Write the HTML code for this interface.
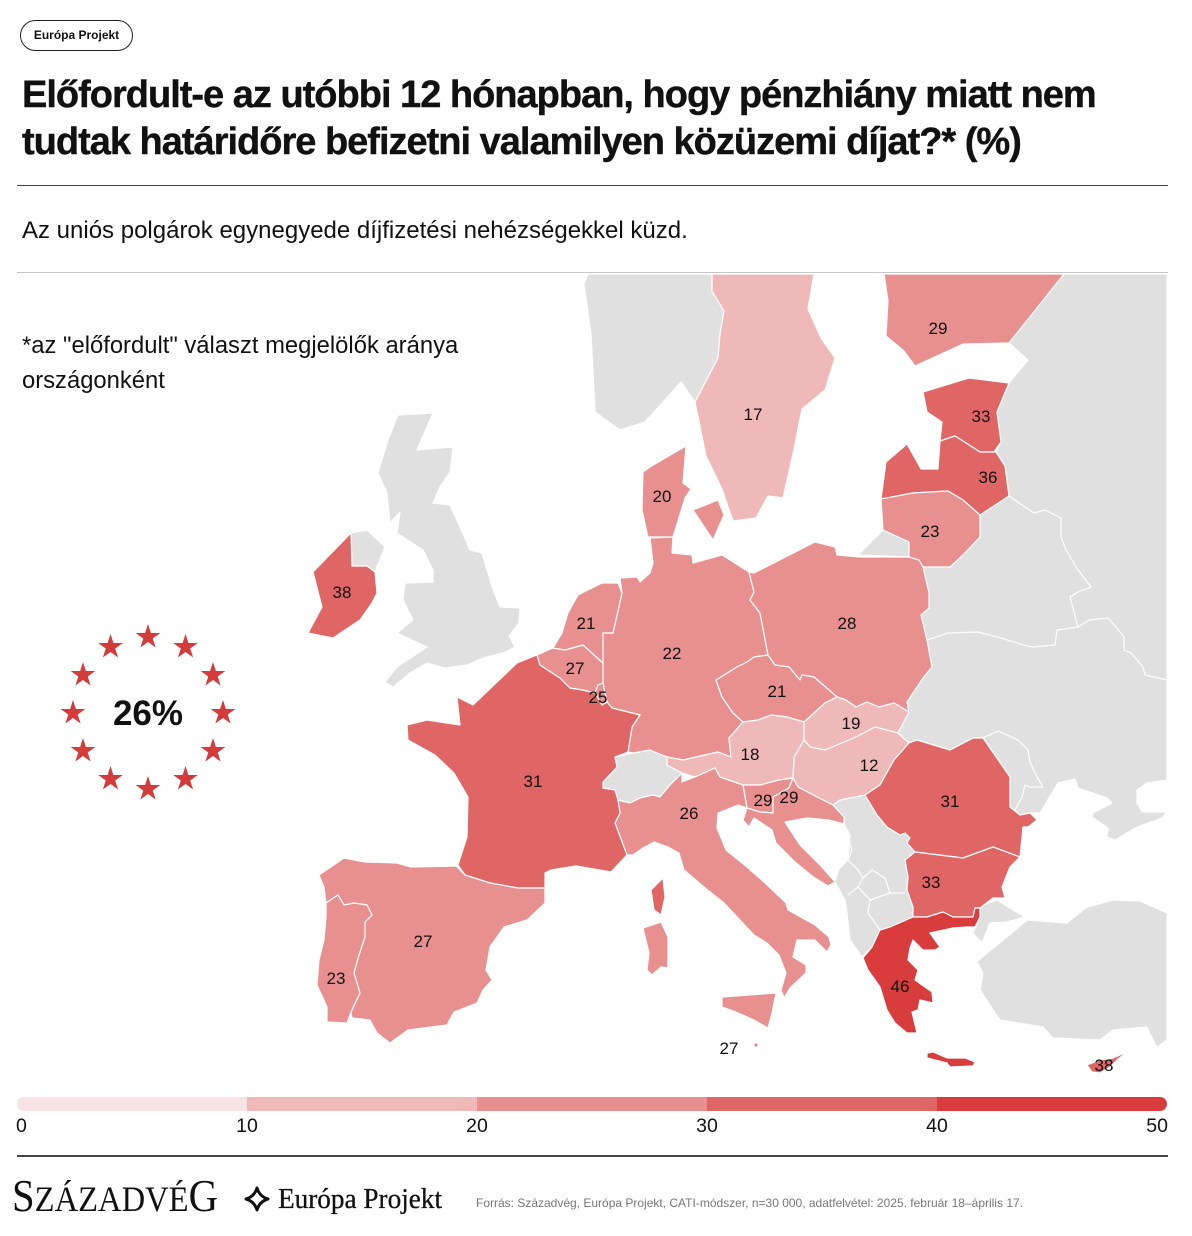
<!DOCTYPE html>
<html><head><meta charset="utf-8">
<style>
html,body{margin:0;padding:0;background:#fff;}
body{width:1192px;height:1236px;position:relative;overflow:hidden;font-family:"Liberation Sans",Arial,sans-serif;color:#111;}
.pill{position:absolute;left:20px;top:20px;width:111px;height:29px;border:1px solid #222;border-radius:16px;font-weight:bold;font-size:12px;line-height:29px;text-align:center;}
.title{position:absolute;left:22px;top:72px;font-weight:bold;font-size:38px;line-height:47px;letter-spacing:-1px;white-space:nowrap;color:#111;-webkit-text-stroke:0.4px #111;}
.rule1{position:absolute;left:17px;top:185px;width:1151px;height:1px;background:#444;}
.sub{position:absolute;left:22px;top:216px;font-size:24px;line-height:30px;white-space:nowrap;}
.rule2{position:absolute;left:17px;top:272px;width:1151px;height:1px;background:#c8c8c8;}
.note{position:absolute;left:22px;top:328px;font-size:23.8px;line-height:35px;white-space:nowrap;}
svg{position:absolute;left:0;top:0;}
</style></head>
<body>
<svg width="1192" height="1236" viewBox="0 0 1192 1236" xmlns="http://www.w3.org/2000/svg">
<defs>
<path id="st" d="M0,-13 L2.92,-4.02 L12.36,-4.02 L4.73,1.54 L7.64,10.52 L0,4.97 L-7.64,10.52 L-4.73,1.54 L-12.36,-4.02 L-2.92,-4.02 Z" fill="#d63b3b"/>
<clipPath id="mc"><rect x="17" y="274" width="1151" height="830"/></clipPath>
<clipPath id="bc"><rect x="17" y="1097" width="1150" height="14" rx="7"/></clipPath>
</defs>
<g clip-path="url(#mc)" stroke="#fff" stroke-width="1.2" stroke-linejoin="round">
<g fill="#e0e0e0">
<polygon points="584,284 588,274 712,274 712,291 724,311 720,334 718,358 695,402 681,382 645,422 620,430 595,412 591,334"/>
<polygon points="398,415 433,413 417,450 453,447 450,472 440,487 433,503 450,505 460,527 470,550 482,553 492,587 500,607 520,608 519,623 509,636 515,647 503,653 483,658 467,665 445,668 427,663 410,673 393,687 385,682 397,667 427,647 397,633 413,620 403,600 405,583 433,582 433,570 423,550 397,533 400,512 390,523 387,493 378,473 388,440"/>
<polygon points="351,533 367,530 385,547 375,572 367,566 352,566"/>
<polygon points="858,555 883,530 909,542 909,557"/>
<polygon points="603,782 617,767 615,757 633,753 650,750 667,757 667,765 682,773 682,782 670,785 660,797 653,795 640,798 630,803 618,800 615,790 603,788"/>
<polygon points="833,805 840,800 865,795 877,815 887,827 900,835 905,833 910,838 907,843 915,852 905,860 908,877 907,890 913,907 913,917 890,927 880,930 872,947 862,957 850,940 847,913 845,900 835,882 838,870 848,860 850,835 844,824 844,817"/>
<polygon points="1064,274 1167,274 1167,780 1147,783 1137,790 1137,803 1142,812 1167,812 1162,818 1137,827 1115,840 1107,837 1108,828 1092,817 1093,813 1112,803 1107,798 1078,788 1075,779 1058,783 1040,813 1030,813 1020,815 1010,807 1010,777 983,738 973,738 950,750 917,740 909,743 898,733 909,712 907,702 923,678 932,667 927,640 921,615 929,608 929,593 923,567 950,567 963,555 980,537 980,515 1009,496 1005,466 996,452 1001,442 997,412 1009,383 1028,360 1009,343"/>
<polygon points="978,907 997,900 1013,910 1025,917 1007,922 990,923 982,943 973,933 980,917"/>
<polygon points="977,962 987,953 1007,937 1027,920 1067,923 1087,907 1113,900 1140,901 1167,913 1167,1040 1157,1047 1152,1038 1147,1027 1113,1030 1100,1040 1053,1038 1043,1027 1000,1020 993,1010 980,990 983,973"/>
</g>
<g fill="none">
<polyline points="927,640 948,633 978,632 1001,638 1024,645 1032,647 1055,645 1057,630 1078,627 1089,620 1108,618 1116,627 1124,637 1124,650 1131,653 1143,667 1145,675 1167,680"/>
<polyline points="1009,496 1034,513 1045,510 1061,518 1061,537 1066,550 1078,570 1091,587 1078,592 1070,597 1078,627"/>
<polyline points="983,738 998,731 1018,740 1028,750 1030,762 1037,777 1043,787 1030,787 1025,785 1022,797 1015,810 1020,815"/>
<polyline points="844,817 845,830 852,850 848,860 840,865 835,882"/>
<polyline points="848,860 858,870 863,878 858,887 848,895"/>
<polyline points="863,878 872,870 885,878 890,893 870,900"/>
<polyline points="870,900 890,893 905,893"/>
<polyline points="858,887 870,900 868,913 880,930"/>
</g>
<polygon fill="#f0b9b9" points="712,274 814,274 808,309 821,338 835,358 825,390 802,409 794,449 783,498 768,496 756,518 733,521 722,489 706,456 695,402 718,358 720,334 724,311 712,291"/>
<polygon fill="#e89090" points="884,274 1064,274 1009,343 963,344 915,366 904,351 886,336 888,301"/>
<polygon fill="#e06666" points="923,392 969,378 1009,383 997,412 1001,442 994,452 980,452 955,436 940,441 942,422 927,412"/>
<polygon fill="#e06666" points="881,499 886,462 907,444 921,469 938,469 940,441 955,436 980,452 996,452 1005,466 1009,496 980,515 963,500 948,491 913,493"/>
<polygon fill="#e89090" points="881,499 913,493 948,491 963,500 980,515 980,537 963,555 950,567 923,567 909,557 909,542 883,530"/>
<polygon fill="#e89090" points="686,446 683,483 691,489 685,498 673,537 648,537 642,510 643,472 650,467 667,457"/>
<polygon fill="#e89090" points="693,510 718,500 724,515 713,540"/>
<polygon fill="#e89090" points="650,538 673,537 672,553 692,555 693,563 722,555 749,572 754,592 750,600 760,613 768,655 754,657 747,662 737,667 716,680 722,697 733,713 743,722 729,738 731,757 718,752 683,760 667,757 650,750 633,753 628,752 632,727 640,715 612,708 607,702 603,683 603,663 603,633 613,633 622,593 620,578 637,577 640,582 650,573 653,563"/>
<polygon fill="#e89090" points="754,573 815,542 835,547 837,555 860,557 909,557 919,560 923,567 929,593 929,608 921,615 927,640 932,667 923,678 907,702 909,712 894,703 879,707 867,702 856,707 846,700 837,697 829,690 814,677 802,675 800,680 789,667 775,665 768,655 760,613 750,600 754,592 749,572"/>
<polygon fill="#e89090" points="716,680 737,667 747,662 754,657 768,655 775,665 789,667 800,680 802,675 814,677 829,690 837,697 825,703 804,722 787,717 771,715 758,720 743,722 733,713 722,697"/>
<polygon fill="#f0b9b9" points="837,697 846,700 856,707 867,702 879,707 894,703 909,712 898,733 875,727 856,737 825,750 810,747 804,740 804,722 825,703"/>
<polygon fill="#f0b9b9" points="804,740 810,747 825,750 856,737 875,727 898,733 909,743 894,760 880,785 865,795 840,800 833,805 817,797 798,787 793,778 794,757"/>
<polygon fill="#f0b9b9" points="729,738 743,722 758,720 771,715 787,717 804,722 804,740 794,757 793,778 779,780 760,785 743,785 720,777 715,768 695,777 682,773 667,765 667,757 683,760 718,752 731,757"/>
<polygon fill="#e89090" points="743,785 760,785 779,780 793,778 789,788 773,797 773,813 760,812 747,808"/>
<polygon fill="#e89090" points="793,778 798,787 817,797 833,805 844,817 844,824 829,820 807,818 785,822 800,845 820,865 835,882 828,886 812,876 795,862 776,843 772,830 754,818 749,827 743,820 747,808 760,812 773,813 773,797 789,788"/>
<polygon fill="#e89090" points="682,773 682,782 695,777 715,768 720,777 743,785 747,808 738,805 718,813 717,828 726,850 747,867 765,883 786,903 788,910 815,925 829,937 831,945 827,952 815,940 797,940 793,957 806,965 806,973 790,988 784,998 781,990 786,973 779,955 767,943 754,935 740,920 724,903 704,887 684,870 679,853 668,847 654,842 643,848 633,855 627,855 615,823 620,813 618,800 630,803 640,798 653,795 660,797 670,785"/>
<polygon fill="#e89090" points="722,997 776,993 772,1013 768,1028 754,1020 736,1012 722,1007"/>
<polygon fill="#e89090" points="643,928 661,922 668,937 668,968 661,967 652,975 647,970 649,953"/>
<polygon fill="#e06666" points="651,890 663,878 665,897 661,915 654,910"/>
<polygon fill="#e06666" points="537,655 540,665 560,678 570,688 583,690 595,693 602,705 607,702 612,708 640,715 632,727 628,752 615,757 617,767 603,782 603,788 615,790 618,800 620,813 615,823 627,855 611,872 576,866 551,870 545,873 545,888 518,888 490,883 465,875 458,865 467,837 468,797 454,773 435,755 408,740 407,725 427,720 460,725 457,697 473,705 517,663"/>
<polygon fill="#e89090" points="537,655 553,648 565,650 583,645 603,663 603,683 598,685 595,693 583,690 570,688 560,678 540,665"/>
<polygon fill="#e89090" points="598,685 603,683 607,702 602,705 595,693"/>
<polygon fill="#e89090" points="578,595 602,583 618,583 622,593 613,633 603,633 603,663 583,645 565,650 553,648 562,633 568,613"/>
<polygon fill="#e89090" points="319,875 344,858 365,862 397,863 411,867 456,866 465,875 490,883 518,888 545,888 545,903 527,920 504,927 490,947 486,970 492,980 483,990 477,1003 454,1012 447,1025 408,1030 390,1043 377,1033 370,1020 352,1018 351,1012 360,993 354,973 358,958 365,937 365,922 372,915 367,905 354,903 344,905 338,895 326,903 324,887"/>
<polygon fill="#e89090" points="326,903 338,895 344,905 354,903 367,905 372,915 365,922 365,937 358,958 354,973 360,993 351,1012 347,1023 327,1022 327,1007 317,985 319,960 324,940 326,917"/>
<polygon fill="#e06666" points="351,533 352,566 367,566 375,572 377,593 372,603 360,620 333,638 308,633 322,607 313,572"/>
<polygon fill="#e06666" points="909,743 917,740 950,750 973,738 983,738 1010,777 1010,807 1020,815 1030,813 1037,820 1028,827 1023,827 1020,857 993,847 963,858 915,852 907,843 910,838 905,833 900,835 887,827 877,815 865,795 880,785 894,760"/>
<polygon fill="#e06666" points="915,852 963,858 993,847 1020,857 1010,867 1002,887 1005,898 993,898 980,908 975,908 973,917 953,917 943,912 927,917 913,917 913,907 907,890 908,877 905,860"/>
<polygon fill="#d93c3c" points="880,930 890,927 913,917 927,917 943,912 953,917 973,917 975,908 980,908 980,917 975,927 967,927 953,928 930,933 940,947 935,950 923,950 913,940 910,948 908,960 918,970 915,980 932,992 933,1003 920,1000 918,1010 912,1012 917,1033 907,1033 895,1023 887,1010 880,987 868,970 863,958 872,947"/>
<polygon fill="#d93c3c" points="927,1053 933,1052 947,1058 965,1058 975,1062 973,1066 950,1067 947,1063 927,1058"/>
<polygon fill="#e06666" points="1087,1065 1100,1060 1113,1058 1127,1052 1117,1060 1110,1067 1100,1073 1092,1072"/>
<circle cx="756" cy="1045" r="1.6" fill="#e89090" stroke="none"/>
</g>
<g font-family="Liberation Sans, Arial, sans-serif" font-size="17" fill="#111" text-anchor="middle">
<text x="938" y="334">29</text>
<text x="753" y="420">17</text>
<text x="981" y="422">33</text>
<text x="988" y="483">36</text>
<text x="662" y="502">20</text>
<text x="930" y="537">23</text>
<text x="342" y="598">38</text>
<text x="586" y="629">21</text>
<text x="847" y="629">28</text>
<text x="672" y="659">22</text>
<text x="575" y="674">27</text>
<text x="777" y="697">21</text>
<text x="598" y="703">25</text>
<text x="851" y="729">19</text>
<text x="750" y="760">18</text>
<text x="869" y="771">12</text>
<text x="533" y="787">31</text>
<text x="950" y="807">31</text>
<text x="763" y="806">29</text>
<text x="789" y="803">29</text>
<text x="689" y="819">26</text>
<text x="931" y="888">33</text>
<text x="423" y="947">27</text>
<text x="336" y="984">23</text>
<text x="900" y="992">46</text>
<text x="729" y="1054">27</text>
<text x="1104" y="1071">38</text>
</g>
<g>
<use href="#st" x="148" y="637"/>
<use href="#st" x="185.5" y="647"/>
<use href="#st" x="213" y="675"/>
<use href="#st" x="223" y="713"/>
<use href="#st" x="213" y="751"/>
<use href="#st" x="185.5" y="779"/>
<use href="#st" x="148" y="789"/>
<use href="#st" x="110.5" y="779"/>
<use href="#st" x="83" y="751"/>
<use href="#st" x="73" y="713"/>
<use href="#st" x="83" y="675"/>
<use href="#st" x="110.5" y="647"/>
</g>
<text x="148" y="725" text-anchor="middle" font-family="Liberation Sans, Arial, sans-serif" font-weight="bold" font-size="35" fill="#111">26%</text>
<g clip-path="url(#bc)">
<rect x="17" y="1097" width="230" height="14" fill="#f8e4e4"/>
<rect x="247" y="1097" width="230" height="14" fill="#f0b9b9"/>
<rect x="477" y="1097" width="230" height="14" fill="#e89090"/>
<rect x="707" y="1097" width="230" height="14" fill="#e06666"/>
<rect x="937" y="1097" width="230" height="14" fill="#d93c3c"/>
</g>
<g font-family="Liberation Sans, Arial, sans-serif" font-size="19.5" fill="#111">
<text x="16" y="1132">0</text>
<text x="247" y="1132" text-anchor="middle">10</text>
<text x="477" y="1132" text-anchor="middle">20</text>
<text x="707" y="1132" text-anchor="middle">30</text>
<text x="937" y="1132" text-anchor="middle">40</text>
<text x="1168" y="1132" text-anchor="end">50</text>
</g>
<rect x="17" y="1155" width="1151" height="2" fill="#444"/>
<text x="12" y="1211" font-family="Liberation Serif, Times New Roman, serif" fill="#111" textLength="206" lengthAdjust="spacingAndGlyphs"><tspan font-size="45">S</tspan><tspan font-size="36">ZÁZADVÉ</tspan><tspan font-size="45">G</tspan></text>
<path d="M257,1188 Q259.5,1196.5 268,1199 Q259.5,1201.5 257,1210 Q254.5,1201.5 246,1199 Q254.5,1196.5 257,1188 Z" fill="none" stroke="#111" stroke-width="3" stroke-linejoin="round"/>
<text x="278" y="1208" font-family="Liberation Serif, Times New Roman, serif" font-size="29" fill="#111" stroke="#111" stroke-width="0.3" textLength="164" lengthAdjust="spacingAndGlyphs">Európa Projekt</text>
<text x="476" y="1207" font-family="Liberation Sans, Arial, sans-serif" font-size="12" fill="#777" textLength="547" lengthAdjust="spacingAndGlyphs">Forrás: Századvég, Európa Projekt, CATI-módszer, n=30 000, adatfelvétel: 2025. február 18–április 17.</text>
</svg>
<div class="pill">Európa Projekt</div>
<div class="title">Előfordult-e az utóbbi 12 hónapban, hogy pénzhiány miatt nem<br>tudtak határidőre befizetni valamilyen közüzemi díjat?* (%)</div>
<div class="rule1"></div>
<div class="sub">Az uniós polgárok egynegyede díjfizetési nehézségekkel küzd.</div>
<div class="rule2"></div>
<div class="note">*az "előfordult" választ megjelölők aránya<br>országonként</div>
</body></html>
